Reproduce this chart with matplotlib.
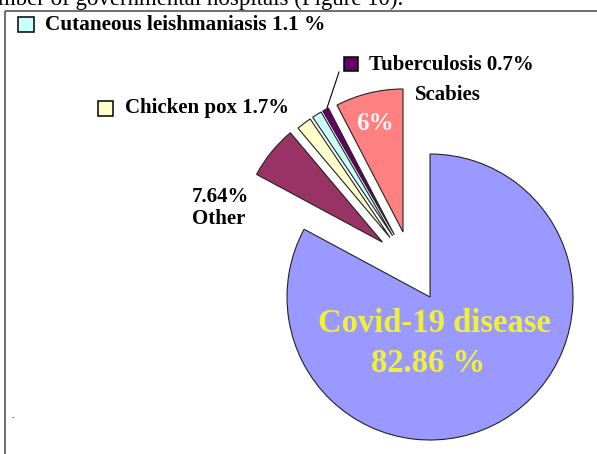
import matplotlib
matplotlib.use("Agg")
import matplotlib.pyplot as plt
from matplotlib.patches import Rectangle

# ---- data (slice sizes as drawn in the reference picture, counter-clockwise from 12 o'clock) ----
categories = ["Scabies", "Tuberculosis", "Cutaneous leishmaniasis", "Chicken pox", "Other", "Covid-19 disease"]
values = [7.64, 0.7, 1.1, 1.7, 6.0, 82.86]
label_texts = ["6%", "Tuberculosis 0.7%", "Cutaneous leishmaniasis 1.1 %", "Chicken pox 1.7%",
               "7.64%\nOther", "Covid-19 disease\n82.86 %"]
colors = ["#ff8080", "#660066", "#ccffff", "#ffffcc", "#993366", "#9999ff"]
explode_px = [34.5, 35, 35, 35, 37, 36.7]

W, H = 597, 454
fig = plt.figure(figsize=(W / 100, H / 100), dpi=100)
ax = fig.add_axes([0, 0, 1, 1])

def Y(y_img):
    return H - y_img

center = (411.2, Y(265.5))
ax.pie(values, colors=colors, explode=explode_px, startangle=90, counterclock=True,
       radius=143, center=center,
       wedgeprops=dict(edgecolor="#222222", linewidth=0.8))
ax.set_xlim(0, W)
ax.set_ylim(0, H)
ax.set_aspect("auto")
ax.axis("off")

serif = ["Liberation Serif", "DejaVu Serif"]

# frame lines
ax.plot([5, 5], [Y(11), 0], color="#555555", lw=1.2, solid_capstyle="butt")
ax.plot([5, W], [Y(11), Y(11)], color="#555555", lw=1.2, solid_capstyle="butt")

# cropped caption line at top (as in the reference)
ax.text(-2, Y(4.5), "mber of governmental hospitals (Figure 10).", fontsize=16.5,
        family=serif, color="black", ha="left", va="baseline")

# legend-like labels with squares
def sq_label(x0, y0, w, h, color, text, tx, ty, fs=15):
    ax.add_patch(Rectangle((x0, Y(y0 + h)), w, h, facecolor=color,
                           edgecolor="black", lw=1.1))
    ax.text(tx, Y(ty), text, fontsize=fs, family=serif, weight="bold",
            ha="left", va="center", color="black")

sq_label(18, 17, 16, 15, colors[2], label_texts[2], 45, 25, fs=15.3)
sq_label(344, 57, 14, 14, colors[1], label_texts[1], 369, 65)
sq_label(98, 101, 15, 15, colors[3], label_texts[3], 125, 108)

# leader line for tuberculosis
ax.plot([339, 327], [Y(72), Y(108)], color="black", lw=0.8)

ax.text(415, Y(95), categories[0], fontsize=15, family=serif, weight="bold",
        ha="left", va="center", color="black")
ax.text(375, Y(123), label_texts[0], fontsize=18, family=serif, weight="bold",
        ha="center", va="center", color="#fff4f4")
ax.text(192, Y(208), label_texts[4], fontsize=15, family=serif, weight="bold",
        ha="left", va="center", color="black", linespacing=1.15)

cov1, cov2 = label_texts[5].split("\n")
ax.text(318, Y(324), cov1, fontsize=23.5, family=serif, weight="bold",
        ha="left", va="center", color="#f0f038")
ax.text(428, Y(363), cov2, fontsize=23.5, family=serif, weight="bold",
        ha="center", va="center", color="#f0f038")

ax.text(13, Y(418), "-", fontsize=6, family=serif, ha="center", va="center", color="#333333")

fig.savefig("out.png", dpi=100)
